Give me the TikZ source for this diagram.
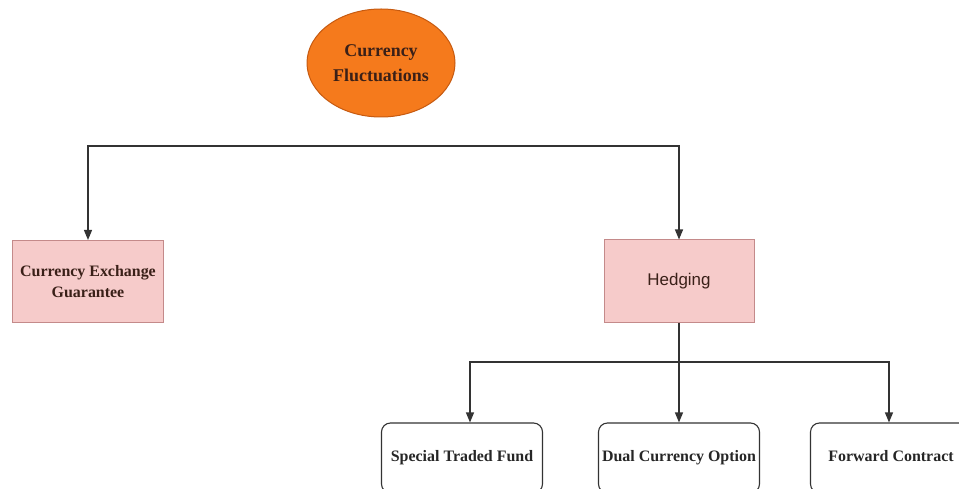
\documentclass[tikz,border=0pt]{standalone}
\usepackage{fontspec}
\setmainfont{Liberation Serif}
\newfontfamily\hsans{Liberation Sans}
\usetikzlibrary{shapes.geometric,arrows.meta}

\definecolor{orangefill}{HTML}{F57A1C}
\definecolor{orangeline}{HTML}{C65A10}
\definecolor{pinkfill}{HTML}{F6CBCA}
\definecolor{pinkline}{HTML}{C48A8A}
\definecolor{linecol}{HTML}{333333}
\definecolor{darktext}{HTML}{3A2018}

\tikzset{
  topic/.style={ellipse, draw=orangeline, fill=orangefill, line width=1bp,
    minimum width=148bp, minimum height=108bp, inner sep=0pt,
    align=center, text=darktext, font=\bfseries\fontsize{18}{25}\selectfont},
  pinkbox/.style={rectangle, draw=pinkline, fill=pinkfill, line width=1bp,
    minimum width=150bp, minimum height=82bp, inner sep=0pt,
    align=center, text=darktext, font=\bfseries\fontsize{16}{21}\selectfont},
  leafbox/.style={rectangle, rounded corners=9bp, draw=linecol, fill=white,
    line width=1.1bp, minimum width=161bp, minimum height=70bp, inner sep=0pt,
    text height=11bp, text depth=3.5bp,
    align=center, text=black!85, font=\bfseries\fontsize{16}{20}\selectfont},
  arr/.style={draw=linecol, line width=1.2bp,
    -{Triangle[width=8bp,length=10bp]}},
  plain/.style={draw=linecol, line width=1.2bp}
}

\begin{document}
\begin{tikzpicture}[x=1bp, y=-1bp]
  \useasboundingbox (0,0) rectangle (959,489);

  % root
  \node[topic] (root) at (381,63) {Currency\\Fluctuations};

  % second level
  \node[pinkbox] (ceg) at (88,281.5) {Currency Exchange\\Guarantee};
  \node[pinkbox, font=\hsans\fontsize{17}{20}\selectfont] (hedge) at (679,281) {Hedging};

  % hedging instruments
  \node[leafbox] (stf) at (462,458) {Special Traded Fund};
  \node[leafbox] (dco) at (679,458) {Dual Currency Option};
  \node[leafbox] (fc)  at (891,458) {Forward Contract};

  % upper distribution line
  \coordinate (busA) at (381,146);
  \draw[arr] (busA) -| (ceg);
  \draw[arr] (busA) -| (hedge);

  % lower distribution line
  \coordinate (busB) at (679,362);
  \draw[plain] (hedge.south) -- (busB);
  \draw[arr] (busB) -| ([xshift=8bp]stf.north);
  \draw[arr] (busB) -- (dco.north);
  \draw[arr] (busB) -| ([xshift=-2bp]fc.north);
\end{tikzpicture}
\end{document}
